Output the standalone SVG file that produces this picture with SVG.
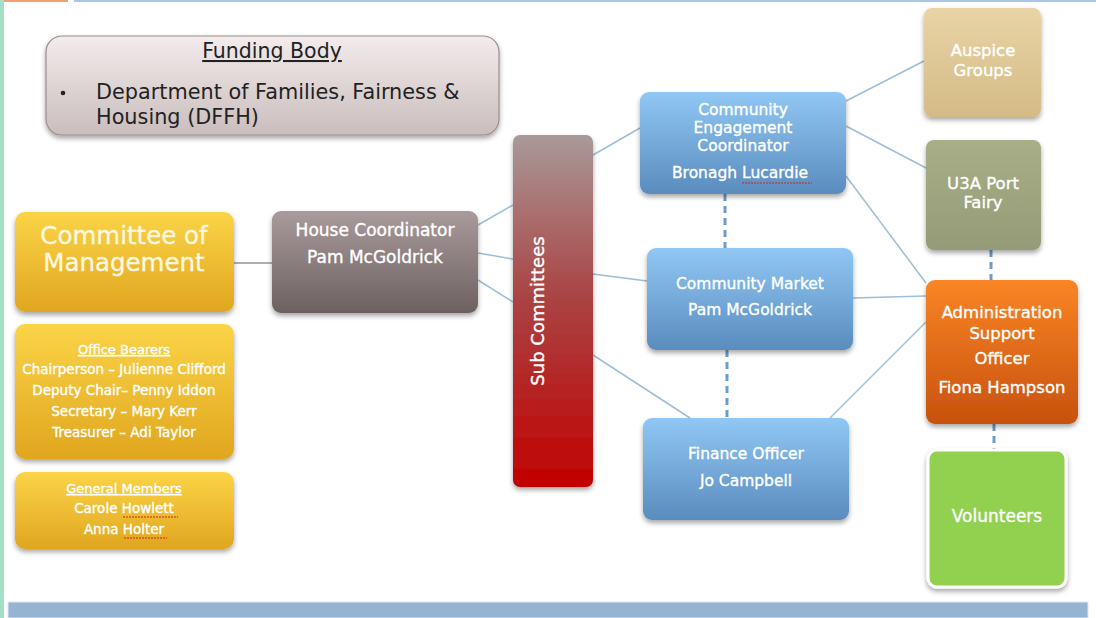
<svg xmlns="http://www.w3.org/2000/svg" width="1096" height="618" viewBox="0 0 1096 618">
<defs>
<linearGradient id="gFb" x1="0" y1="0" x2="0" y2="1"><stop offset="0" stop-color="#f3ecec"/><stop offset="1" stop-color="#cabdbd"/></linearGradient>
<linearGradient id="gGold" x1="0" y1="0" x2="0" y2="1"><stop offset="0" stop-color="#fbd447"/><stop offset="1" stop-color="#e0a61f"/></linearGradient>
<linearGradient id="gHouse" x1="0" y1="0" x2="0" y2="1"><stop offset="0" stop-color="#a99b9b"/><stop offset="1" stop-color="#6d6060"/></linearGradient>
<linearGradient id="gSub" x1="0" y1="0" x2="0" y2="1"><stop offset="0" stop-color="#a99999"/><stop offset="0.45" stop-color="#aa4545"/><stop offset="1" stop-color="#c20000"/></linearGradient>
<linearGradient id="gBlue" x1="0" y1="0" x2="0" y2="1"><stop offset="0" stop-color="#90c7f4"/><stop offset="1" stop-color="#5a8cbe"/></linearGradient>
<linearGradient id="gAus" x1="0" y1="0" x2="0" y2="1"><stop offset="0" stop-color="#e9d4a6"/><stop offset="1" stop-color="#d4bb86"/></linearGradient>
<linearGradient id="gU3a" x1="0" y1="0" x2="0" y2="1"><stop offset="0" stop-color="#a8ae88"/><stop offset="1" stop-color="#949b76"/></linearGradient>
<linearGradient id="gAdm" x1="0" y1="0" x2="0" y2="1"><stop offset="0" stop-color="#fa8525"/><stop offset="1" stop-color="#c7510e"/></linearGradient>
<filter id="sh" x="-10%" y="-10%" width="120%" height="130%"><feDropShadow dx="0" dy="3" stdDeviation="2.5" flood-color="#000" flood-opacity="0.35"/></filter>
<style>
.t{font-family:"DejaVu Sans","Liberation Sans",sans-serif;fill:#ffffff;stroke:#ffffff;stroke-width:0.35;text-anchor:middle}
.d{fill:#222;stroke:none}
.cn{stroke:#9cbedb;stroke-width:1.5;fill:none}
.ds{stroke:#6d9ccc;stroke-width:3;stroke-dasharray:7 5;fill:none}
.wv{stroke:#d02020;stroke-width:1;fill:none;stroke-dasharray:2 1}
</style>
</defs>
<rect width="1096" height="618" fill="#ffffff"/>
<rect x="0" y="0" width="4" height="618" fill="#a3dfc7"/>
<rect x="4" y="0" width="64" height="2" fill="#f0a070"/>
<rect x="74" y="0" width="1022" height="2" fill="#a8c8e2"/>
<rect x="8" y="602" width="1080" height="16" fill="#94b4d2" stroke="#dde8f2" stroke-width="1"/>

<g id="connectors">
<line class="cn" x1="220" y1="263" x2="272" y2="263" style="stroke:#9a9090"/>
<line class="cn" x1="478" y1="225" x2="513" y2="205"/>
<line class="cn" x1="478" y1="253" x2="513" y2="259"/>
<line class="cn" x1="478" y1="280" x2="513" y2="302"/>
<line class="cn" x1="593" y1="155" x2="640" y2="128"/>
<line class="cn" x1="593" y1="274" x2="647" y2="281"/>
<line class="cn" x1="593" y1="355" x2="690" y2="418"/>
<line class="cn" x1="846" y1="101" x2="924" y2="61"/>
<line class="cn" x1="846" y1="126" x2="926" y2="168"/>
<line class="cn" x1="846" y1="176" x2="926" y2="283"/>
<line class="cn" x1="853" y1="298" x2="926" y2="296"/>
<line class="cn" x1="830" y1="418" x2="926" y2="322"/>
<line class="ds" x1="725" y1="194" x2="725" y2="248"/>
<line class="ds" x1="727" y1="350" x2="727" y2="418"/>
<line class="ds" x1="991" y1="250" x2="991" y2="280"/>
<line class="ds" x1="994" y1="424" x2="994" y2="450"/>
</g>

<g id="funding-body">
<rect x="46" y="36" width="453" height="99" rx="16" fill="url(#gFb)" stroke="#9b8d8d" stroke-width="1.2" filter="url(#sh)"/>
<text class="t d" x="272" y="58" font-size="20.5" text-decoration="underline">Funding Body</text>
<circle cx="63" cy="93" r="2.3" fill="#222"/>
<text class="t d" x="96" y="99" font-size="20.8" style="text-anchor:start">Department of Families, Fairness &amp;</text>
<text class="t d" x="96" y="124" font-size="20.8" style="text-anchor:start">Housing (DFFH)</text>
</g>

<g id="committee">
<rect x="15" y="212" width="219" height="100" rx="10" fill="url(#gGold)" filter="url(#sh)"/>
<text class="t" x="124" y="244" font-size="24.5" style="fill:#fff8e0;stroke:#fff8e0">Committee of</text>
<text class="t" x="124" y="271" font-size="24.5" style="fill:#fff8e0;stroke:#fff8e0">Management</text>
</g>

<g id="office-bearers">
<rect x="15" y="324" width="219" height="135" rx="10" fill="url(#gGold)" filter="url(#sh)"/>
<text class="t" x="124" y="354" font-size="13" text-decoration="underline">Office Bearers</text>
<text class="t" x="124" y="374" font-size="13.5">Chairperson – Julienne Clifford</text>
<text class="t" x="124" y="395" font-size="13.5">Deputy Chair– Penny Iddon</text>
<text class="t" x="124" y="416" font-size="13.5">Secretary – Mary Kerr</text>
<text class="t" x="124" y="437" font-size="13.5">Treasurer – Adi Taylor</text>
</g>

<g id="general-members">
<rect x="15" y="472" width="219" height="77" rx="10" fill="url(#gGold)" filter="url(#sh)"/>
<text class="t" x="124" y="493" font-size="13" text-decoration="underline">General Members</text>
<text class="t" x="124" y="513" font-size="13.5">Carole Howlett</text>
<text class="t" x="124" y="534" font-size="13.5">Anna Holter</text>
<path class="wv" d="M123 517 h55"/>
<path class="wv" d="M124 538 h43"/>
</g>

<g id="house-coordinator">
<rect x="272" y="211" width="206" height="102" rx="9" fill="url(#gHouse)" filter="url(#sh)"/>
<text class="t" x="375" y="236" font-size="17">House Coordinator</text>
<text class="t" x="375" y="263" font-size="17">Pam McGoldrick</text>
</g>

<g id="sub-committees">
<rect x="513" y="135" width="80" height="352" rx="7" fill="url(#gSub)" filter="url(#sh)"/>
<text class="t" x="0" y="0" font-size="18" transform="translate(544 311) rotate(-90)">Sub Committees</text>
</g>

<g id="community-engagement">
<rect x="640" y="92" width="206" height="102" rx="9" fill="url(#gBlue)" filter="url(#sh)"/>
<text class="t" x="743" y="115" font-size="15.5">Community</text>
<text class="t" x="743" y="133" font-size="15.5">Engagement</text>
<text class="t" x="743" y="151" font-size="15.5">Coordinator</text>
<text class="t" x="740" y="178" font-size="15.5">Bronagh Lucardie</text>
<path class="wv" d="M742 183 h70"/>
</g>

<g id="community-market">
<rect x="647" y="248" width="206" height="102" rx="9" fill="url(#gBlue)" filter="url(#sh)"/>
<text class="t" x="750" y="289" font-size="15.5">Community Market</text>
<text class="t" x="750" y="315" font-size="15.5">Pam McGoldrick</text>
</g>

<g id="finance-officer">
<rect x="643" y="418" width="206" height="102" rx="9" fill="url(#gBlue)" filter="url(#sh)"/>
<text class="t" x="746" y="459" font-size="15.5">Finance Officer</text>
<text class="t" x="746" y="486" font-size="15.5">Jo Campbell</text>
</g>

<g id="auspice-groups">
<rect x="924" y="8" width="117" height="109" rx="8" fill="url(#gAus)" filter="url(#sh)"/>
<text class="t" x="983" y="56" font-size="16.5">Auspice</text>
<text class="t" x="983" y="76" font-size="16.5">Groups</text>
</g>

<g id="u3a-port-fairy">
<rect x="926" y="140" width="115" height="110" rx="8" fill="url(#gU3a)" filter="url(#sh)"/>
<text class="t" x="983" y="189" font-size="16.5">U3A Port</text>
<text class="t" x="983" y="208" font-size="16.5">Fairy</text>
</g>

<g id="administration-support">
<rect x="926" y="280" width="152" height="144" rx="9" fill="url(#gAdm)" filter="url(#sh)"/>
<text class="t" x="1002" y="318" font-size="16.5">Administration</text>
<text class="t" x="1002" y="339" font-size="16.5">Support</text>
<text class="t" x="1002" y="364" font-size="16.5">Officer</text>
<text class="t" x="1002" y="393" font-size="16.5">Fiona Hampson</text>
</g>

<g id="volunteers">
<rect x="928" y="450" width="138" height="137" rx="9" fill="#92d050" stroke="#ffffff" stroke-width="3" filter="url(#sh)"/>
<text class="t" x="997" y="522" font-size="17">Volunteers</text>
</g>
</svg>
